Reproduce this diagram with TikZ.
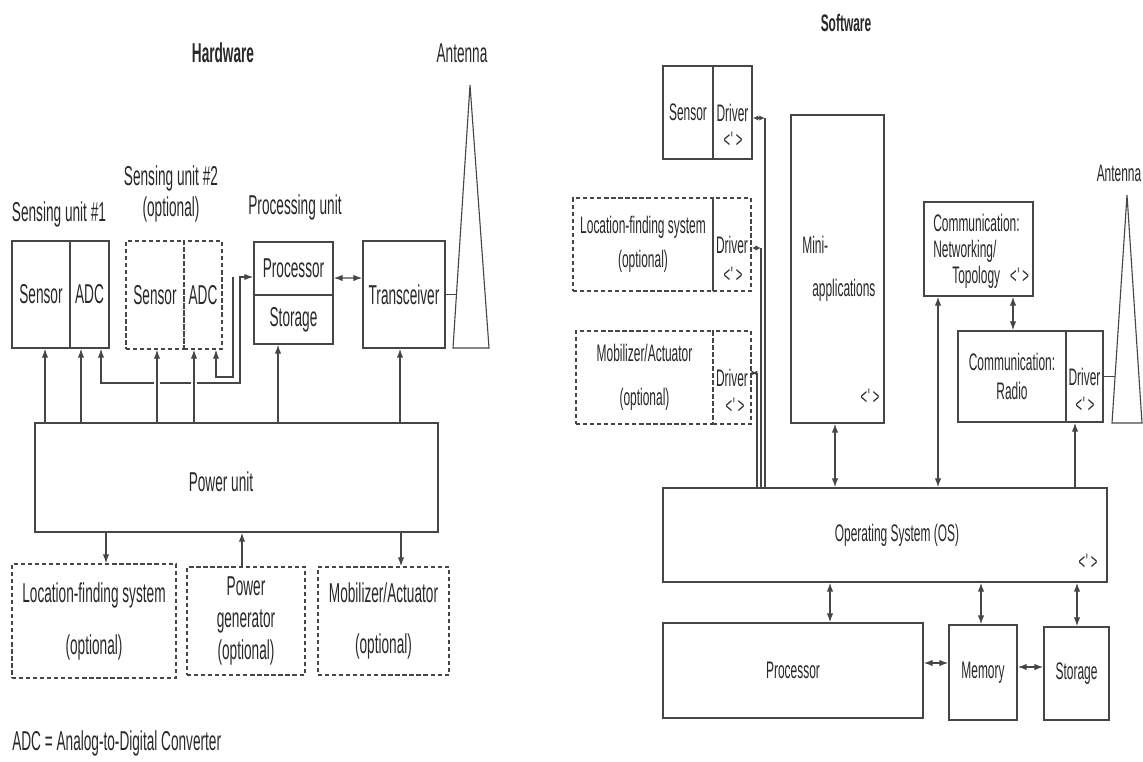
\documentclass[tikz,border=0pt]{standalone}
\usepackage{fontspec}
\setmainfont{Liberation Sans}[FakeStretch=0.5]
\usepackage{tikz}
\usetikzlibrary{arrows.meta, positioning, calc}
\definecolor{linegray}{RGB}{70, 70, 70}
\definecolor{txtgray}{RGB}{40, 40, 40}
\newcommand{\hwfont}{\fontsize{19.4}{22}\selectfont}
\newcommand{\swfont}{\fontsize{17}{21}\selectfont}
\newcommand{\tickfont}{\fontsize{16}{16}\selectfont}
\newcommand{\tickmark}{<\kern0.5pt\textquotesingle\kern0.5pt>}

\begin{document}
\begin{tikzpicture}[
    x=0.025cm, y=-0.025cm,
    font=\hwfont,
    blk/.style={rectangle, draw=linegray, line width=1.2pt, inner sep=0pt, align=center, text=txtgray},
    opt/.style={blk, densely dashed},
    wh/.style 2 args={minimum width=#1*0.025cm, minimum height=#2*0.025cm},
    lbl/.style={inner sep=0pt, align=center, text=txtgray},
    tick/.style={inner sep=0pt, text=txtgray, font=\tickfont},
    wire/.style={draw=linegray, line width=0.8pt},
    arr/.style={wire, -{Latex[length=2.2mm, width=1.6mm]}},
    darr/.style={wire, {Latex[length=2.2mm, width=1.6mm]}-{Latex[length=2.2mm, width=1.6mm]}},
    sdarr/.style={wire, {Latex[length=1.4mm, width=1.3mm]}-{Latex[length=1.4mm, width=1.3mm]}},
    gap/.style={preaction={draw=white, line width=4pt, -, shorten <=4pt, shorten >=4pt}}
]
\useasboundingbox (0,0) rectangle (1143,762);

% ---------------- Hardware ----------------
\node[lbl, font=\hwfont\bfseries] (hwtitle) at (223,53) {Hardware};
\node[lbl] (antlbl1) at (462,53) {Antenna};

% Sensing unit #1
\node[lbl] (su1lbl) at (59,214) {Sensing unit \#1};
\node[blk, wh={58}{107}] (sens1) at (41,294.5) {Sensor};
\node[blk, wh={39}{107}] (adc1) at (89.5,294.5) {ADC};

% Sensing unit #2
\node[lbl] (su2lbl) at (171,194) {Sensing unit \#2\\(optional)};
\node[opt, wh={58}{108}] (sens2) at (155,295) {Sensor};
\node[opt, wh={38}{108}] (adc2) at (203,295) {ADC};

% Processing unit
\node[lbl] (pulbl) at (295,207) {Processing unit};
\node[blk, wh={79}{53}] (proc) at (293.5,268.5) {Processor};
\node[blk, wh={79}{49}] (stor) at (293.5,319.5) {Storage};

% Transceiver and antenna
\node[blk, wh={82}{107}] (trx) at (404,294.5) {Transceiver};
\coordinate (ant1top) at (470,85);
\coordinate (ant1feed) at (456.5,294.5);
\draw[wire] (453,348) -- (ant1top) -- (489,348) -- cycle;
\draw[wire] (trx.east) -- (ant1feed);
\draw[darr] ($(proc.east)+(0,9.5)$) -- ($(trx.west)+(0,-16.5)$);

% Power unit
\node[blk, wh={403}{109}] (power) at (236.5,477.5) {};
\node[lbl] (powerlbl) at (221,482) {Power unit};

% ADC links to processor
\coordinate (busin) at ($(proc.west)+(0,8.5)$);
\draw[darr] (101,0 |- adc1.south) -- (101,383) -- (240,383) -- (240,0 |- busin) -- (busin);
\draw[arr] (233,0 |- busin) -- (233,377) -- (216,377) -- (216,0 |- adc2.south);

% Power supply lines
\foreach \xx/\dst in {45/sens1, 81/adc1, 157/sens2, 194/adc2, 278/stor, 400/trx}
  \draw[arr, gap] (\xx,0 |- power.north) -- (\xx,0 |- \dst.south);

% Optional units
\node[opt, wh={164}{114}] (locf) at (94,621) {Location-finding system\\[15pt](optional)};
\node[opt, wh={118}{108}] (pgen) at (246,621) {Power\\[1pt]generator\\[1pt](optional)};
\node[opt, wh={131}{108}] (mob) at (383.5,621) {Mobilizer/Actuator\\[14pt](optional)};
\draw[arr] (106,0 |- power.south) -- (106,0 |- locf.north);
\draw[arr] (242,0 |- pgen.north) -- (242,0 |- power.south);
\draw[arr] (401,0 |- power.south) -- (401,0 |- mob.north);

\node[lbl, anchor=west] (adcnote) at (12,743) {ADC = Analog-to-Digital Converter};

% ---------------- Software ----------------
\begin{scope}[font=\swfont]
\node[lbl, font=\swfont\bfseries] (swtitle) at (846,23) {Software};

% Drivers
\node[blk, wh={50}{93}] (ssens) at (688,112.5) {Sensor};
\node[blk, wh={39}{93}] (sdrv) at (732.5,112.5) {Driver};
\node[tick] (stick) at (733,140) {\tickmark};

\node[opt, wh={140}{93}] (sloc) at (643,244.5) {Location-finding system\\[3pt](optional)};
\node[opt, wh={38}{93}] (ldrv) at (732,244.5) {Driver};
\node[tick] (ltick) at (733,275) {\tickmark};

\node[opt, wh={137}{93}] (smob) at (644.5,377.5) {Mobilizer/Actuator\\[10pt](optional)};
\node[opt, wh={38}{93}] (mdrv) at (732,377.5) {Driver};
\node[tick] (mtick2) at (735,406) {\tickmark};

% Mini-applications
\node[blk, wh={93}{308}] (mini) at (837.5,269) {};
\node[lbl, align=left, anchor=west] (minilbl) at (802,268.5) {Mini-\\[9.5pt]\hspace*{0.25cm}applications};
\node[tick] (mtick) at (870,397) {\tickmark};

% Communication
\node[blk, wh={109}{94}] (net) at (978.5,249) {};
\node[lbl, align=left, anchor=west] (netlbl) at (933,251) {Communication:\\[-2.5pt]Networking/\\[-2.5pt]\hspace*{0.475cm}Topology\hspace*{0.25cm}{\tickfont\tickmark}};
\node[blk, wh={108}{91}] (radio) at (1012,376.5) {Communication:\\Radio};
\node[blk, wh={37}{91}] (rdrv) at (1084.5,376.5) {Driver};
\node[tick] (rtick) at (1085,405) {\tickmark};

% Antenna
\node[lbl] (antlbl2) at (1119,173) {Antenna};
\coordinate (ant2top) at (1127,195);
\coordinate (ant2feed) at (1115,376.5);
\draw[wire] (1112,423) -- (ant2top) -- (1142,423) -- cycle;
\draw[wire] (rdrv.east) -- (ant2feed);

% Operating system
\node[blk, wh={444}{94}] (os) at (885,535) {};
\node[lbl] (oslbl) at (897,535) {Operating System (OS)};
\node[tick] (ostick) at (1088,562) {\tickmark};

% Processor, memory, storage
\node[blk, wh={260}{95}] (hproc) at (793,670.5) {Processor};
\node[blk, wh={68}{95}] (mem) at (983,672.5) {Memory};
\node[blk, wh={65}{93}] (hstor) at (1076.5,673.5) {Storage};
\end{scope}

% Driver buses
\coordinate (sbus) at (765,118);
\coordinate (lbus) at (761,248);
\coordinate (mbus) at (757,373);
\draw[sdarr] (sdrv.east |- sbus) -- (sbus);
\draw[sdarr] (ldrv.east |- lbus) -- (lbus);
\draw[sdarr] (mdrv.east |- mbus) -- (mbus);
\draw[wire] (sbus) -- (sbus |- os.north);
\draw[wire] (lbus) -- (lbus |- os.north);
\draw[wire] (mbus) -- (mbus |- os.north);

% OS links
\draw[darr] (835,0 |- mini.south) -- (835,0 |- os.north);
\draw[darr] (938,0 |- os.north) -- (938,0 |- net.south);
\draw[darr] (1013,0 |- net.south) -- (1013,0 |- radio.north);
\draw[arr] (1075,0 |- os.north) -- (1075,0 |- rdrv.south);
\draw[darr] (830,0 |- os.south) -- (830,0 |- hproc.north);
\draw[darr] (981,0 |- os.south) -- (981,0 |- mem.north);
\draw[darr] (1077,0 |- os.south) -- (1077,0 |- hstor.north);
\draw[darr] (hproc.east |- 0,663) -- (mem.west |- 0,663);
\draw[darr] (mem.east |- 0,667) -- (hstor.west |- 0,667);

\end{tikzpicture}
\end{document}
